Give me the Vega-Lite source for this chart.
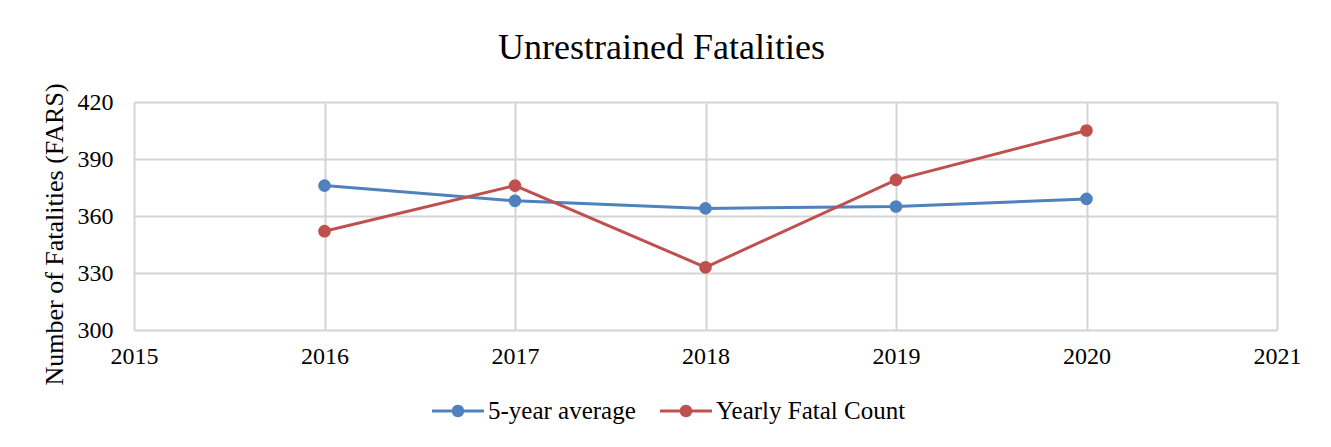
{
  "$schema": "https://vega.github.io/schema/vega-lite/v6.json",
  "autosize": "none",
  "width": 1143,
  "height": 228,
  "padding": {"left": 134, "top": 102, "right": 54, "bottom": 117},
  "background": "white",
  "title": {
    "text": "Unrestrained Fatalities",
    "font": "Liberation Serif",
    "fontSize": 36,
    "fontWeight": "normal",
    "color": "#000000",
    "anchor": "middle",
    "dx": -44,
    "dy": 20,
    "offset": 36
  },
  "data": {
    "values": [
      {"year": 2016, "series": "5-year average", "value": 376},
      {"year": 2017, "series": "5-year average", "value": 368},
      {"year": 2018, "series": "5-year average", "value": 364},
      {"year": 2019, "series": "5-year average", "value": 365},
      {"year": 2020, "series": "5-year average", "value": 369},
      {"year": 2016, "series": "Yearly Fatal Count", "value": 352},
      {"year": 2017, "series": "Yearly Fatal Count", "value": 376},
      {"year": 2018, "series": "Yearly Fatal Count", "value": 333},
      {"year": 2019, "series": "Yearly Fatal Count", "value": 379},
      {"year": 2020, "series": "Yearly Fatal Count", "value": 405}
    ]
  },
  "mark": {"type": "line", "strokeWidth": 3, "point": {"filled": true, "size": 160, "opacity": 1}},
  "encoding": {
    "x": {
      "field": "year",
      "type": "quantitative",
      "scale": {"domain": [2015, 2021], "nice": false, "zero": false},
      "axis": {"values": [2015, 2016, 2017, 2018, 2019, 2020, 2021], "format": "d", "title": null, "labelPadding": 14, "labelFlush": false}
    },
    "y": {
      "field": "value",
      "type": "quantitative",
      "scale": {"domain": [300, 420], "nice": false, "zero": false},
      "axis": {"values": [300, 330, 360, 390, 420], "title": "Number of Fatalities (FARS)", "labelPadding": 21, "titlePadding": 10, "titleFontSize": 26, "titleY": 132}
    },
    "color": {
      "field": "series",
      "type": "nominal",
      "scale": {"domain": ["5-year average", "Yearly Fatal Count"], "range": ["#4F81BD", "#C0504D"]},
      "legend": {
        "title": null,
        "orient": "none",
        "direction": "horizontal",
        "legendX": 298,
        "legendY": 283,
        "symbolType": "M-1,-0.055H1V0.055H-1Z M0,-0.24A0.24,0.24 0 1,1 0,0.24A0.24,0.24 0 1,1 0,-0.24Z",
        "symbolSize": 2704,
        "symbolStrokeWidth": 0,
        "labelFontSize": 25,
        "labelOffset": 4,
        "columnPadding": 24,
        "encode": {"symbols": {"update": {"fill": {"scale": "color", "field": "value"}, "strokeWidth": {"value": 0}, "opacity": {"value": 1}}}}
      }
    }
  },
  "config": {
    "font": "Liberation Serif",
    "view": {"stroke": null},
    "axis": {
      "labelFont": "Liberation Serif",
      "labelFontSize": 24,
      "labelColor": "#000000",
      "titleFont": "Liberation Serif",
      "titleColor": "#000000",
      "titleFontWeight": "normal",
      "grid": true,
      "gridColor": "#d4d4d4",
      "gridWidth": 2,
      "domain": false,
      "ticks": false
    },
    "legend": {"labelFont": "Liberation Serif", "labelColor": "#000000", "labelLimit": 400}
  }
}
